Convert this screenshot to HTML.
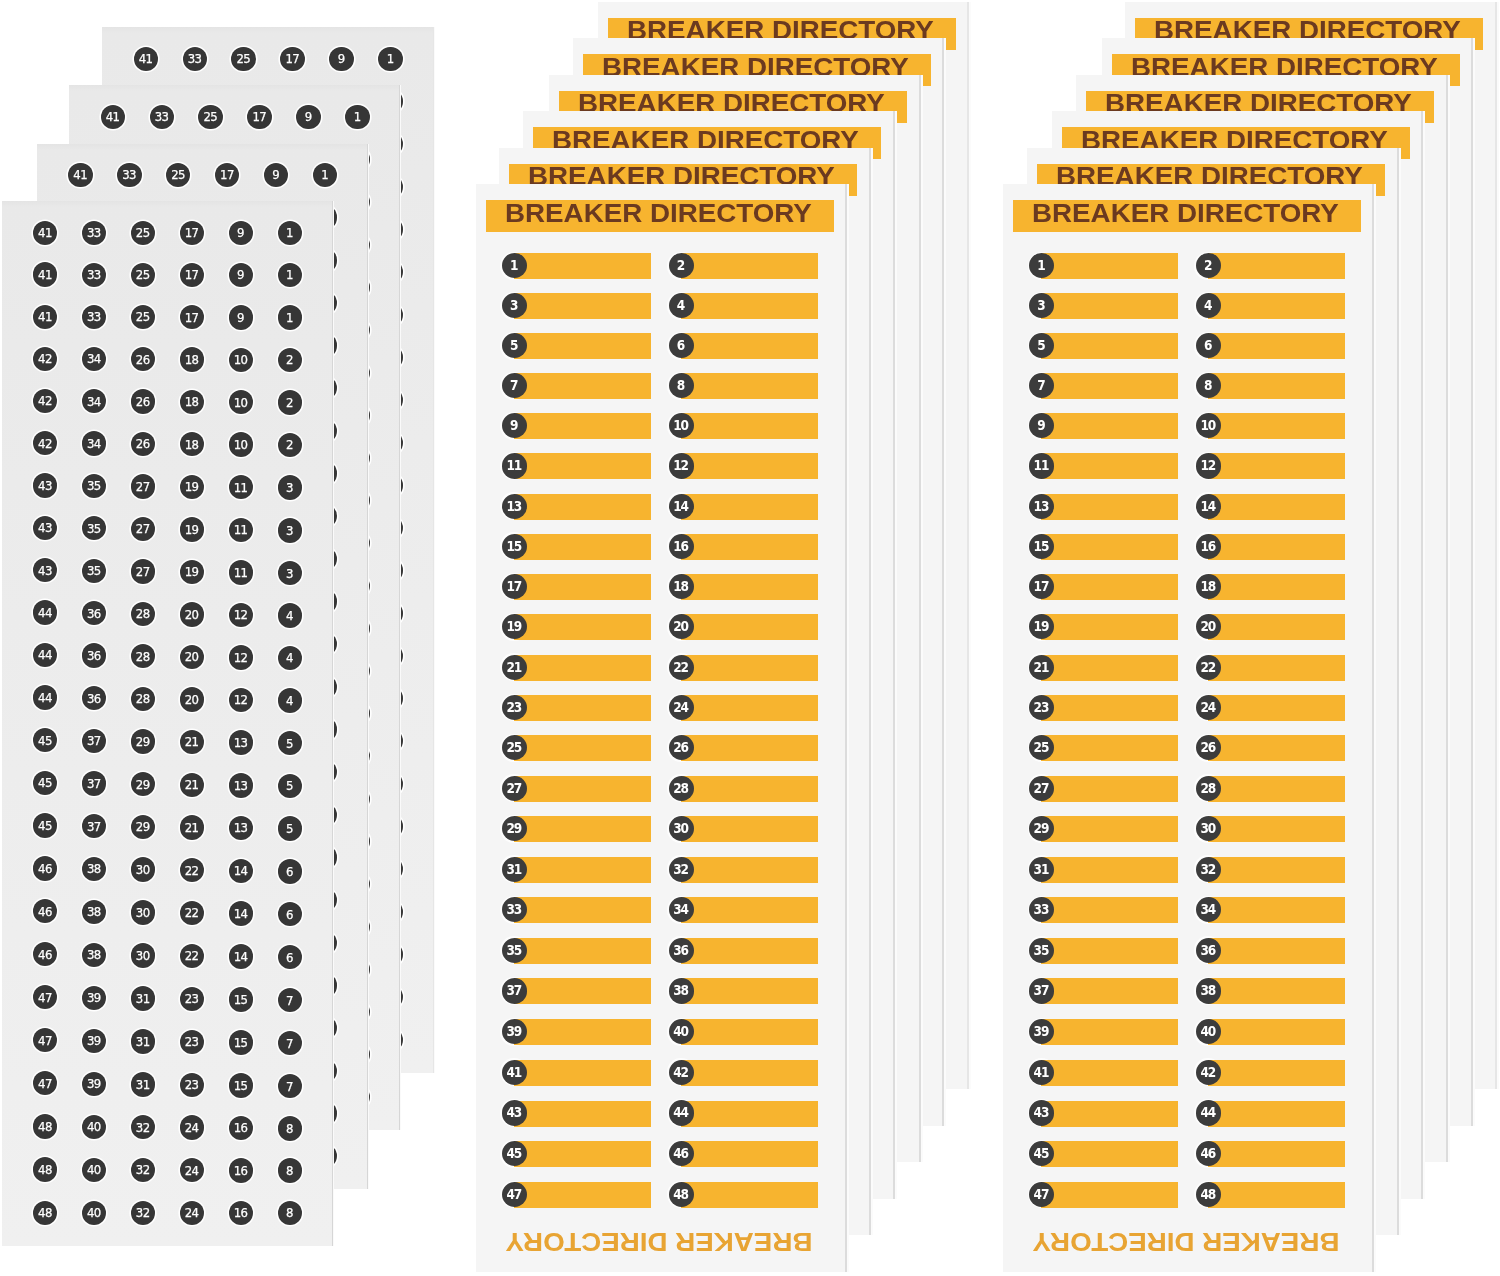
<!DOCTYPE html>
<html><head><meta charset="utf-8"><title>Breaker Directory Labels</title><style>
html,body{margin:0;padding:0;background:#fff;}
body{width:1500px;height:1276px;overflow:hidden;position:relative;}
.ls,.ms{position:absolute;box-sizing:border-box;}
.ls{width:332px;height:1045.5px;background:linear-gradient(#e4e4e4,#e9e9e9 6px,#ececec 40%,#f0f0f0);border-right:1px solid #d6d6d6;box-shadow:1px 0 0 #fafafa;}
.ms{width:371.5px;height:1087.5px;background:#f5f5f5;border-right:2px solid #dcdcdc;box-shadow:2px 0 0 #fbfbfb;}
.bk{border-right-color:#e6e6e6;}
.c{position:absolute;border-radius:50%;background:#363636;box-shadow:0 0 0 1.6px #fff;color:#fff;text-align:center;}
.lc{width:24.4px;height:24.4px;line-height:24.4px;font:13px/24.4px "DejaVu Sans Condensed","DejaVu Sans",sans-serif;font-stretch:condensed;letter-spacing:-0.6px;text-indent:-0.6px;padding-top:0.6px;box-sizing:border-box;-webkit-text-stroke:0.25px #fff;}
.mc{width:25.2px;height:25.2px;font:bold 13.5px/25.2px "DejaVu Sans Condensed","DejaVu Sans",sans-serif;font-stretch:condensed;letter-spacing:-1.1px;text-indent:-1.1px;background:#3c3c3c;box-shadow:none;}
.hl{position:absolute;width:27.8px;height:27.8px;border-radius:50%;background:#fdfdfd;}
.b{position:absolute;height:26px;background:#f7b42f;}
.h{position:absolute;left:10px;top:16px;width:348px;height:32px;background:#f7b42f;overflow:hidden;}
.ht{position:absolute;left:19px;top:-3.5px;white-space:nowrap;font:bold 25px/32px "Liberation Sans",sans-serif;color:#6b3a20;transform-origin:0 50%;transform:scaleX(1.11);}
.bt{position:absolute;left:33.8px;top:1041.3px;width:300px;text-align:center;white-space:nowrap;font:bold 25px/32px "Liberation Sans",sans-serif;color:#e8a433;transform:rotate(180deg) scaleX(1.11);}
</style></head><body>
<div class="ls bk" style="left:102.4px;top:27.3px;width:332px">
<div class="c lc" style="left:31.3px;top:19.5px">41</div>
<div class="c lc" style="left:80.2px;top:19.5px">33</div>
<div class="c lc" style="left:129.1px;top:19.5px">25</div>
<div class="c lc" style="left:178px;top:19.5px">17</div>
<div class="c lc" style="left:226.9px;top:19.5px">9</div>
<div class="c lc" style="left:275.8px;top:19.5px">1</div>
<div class="c lc" style="left:31.3px;top:62.14px">41</div>
<div class="c lc" style="left:80.2px;top:62.14px">33</div>
<div class="c lc" style="left:129.1px;top:62.14px">25</div>
<div class="c lc" style="left:178px;top:62.14px">17</div>
<div class="c lc" style="left:226.9px;top:62.14px">9</div>
<div class="c lc" style="left:275.8px;top:62.14px">1</div>
<div class="c lc" style="left:31.3px;top:104.78px">41</div>
<div class="c lc" style="left:80.2px;top:104.78px">33</div>
<div class="c lc" style="left:129.1px;top:104.78px">25</div>
<div class="c lc" style="left:178px;top:104.78px">17</div>
<div class="c lc" style="left:226.9px;top:104.78px">9</div>
<div class="c lc" style="left:275.8px;top:104.78px">1</div>
<div class="c lc" style="left:31.3px;top:147.42px">42</div>
<div class="c lc" style="left:80.2px;top:147.42px">34</div>
<div class="c lc" style="left:129.1px;top:147.42px">26</div>
<div class="c lc" style="left:178px;top:147.42px">18</div>
<div class="c lc" style="left:226.9px;top:147.42px">10</div>
<div class="c lc" style="left:275.8px;top:147.42px">2</div>
<div class="c lc" style="left:31.3px;top:190.06px">42</div>
<div class="c lc" style="left:80.2px;top:190.06px">34</div>
<div class="c lc" style="left:129.1px;top:190.06px">26</div>
<div class="c lc" style="left:178px;top:190.06px">18</div>
<div class="c lc" style="left:226.9px;top:190.06px">10</div>
<div class="c lc" style="left:275.8px;top:190.06px">2</div>
<div class="c lc" style="left:31.3px;top:232.7px">42</div>
<div class="c lc" style="left:80.2px;top:232.7px">34</div>
<div class="c lc" style="left:129.1px;top:232.7px">26</div>
<div class="c lc" style="left:178px;top:232.7px">18</div>
<div class="c lc" style="left:226.9px;top:232.7px">10</div>
<div class="c lc" style="left:275.8px;top:232.7px">2</div>
<div class="c lc" style="left:31.3px;top:275.34px">43</div>
<div class="c lc" style="left:80.2px;top:275.34px">35</div>
<div class="c lc" style="left:129.1px;top:275.34px">27</div>
<div class="c lc" style="left:178px;top:275.34px">19</div>
<div class="c lc" style="left:226.9px;top:275.34px">11</div>
<div class="c lc" style="left:275.8px;top:275.34px">3</div>
<div class="c lc" style="left:31.3px;top:317.98px">43</div>
<div class="c lc" style="left:80.2px;top:317.98px">35</div>
<div class="c lc" style="left:129.1px;top:317.98px">27</div>
<div class="c lc" style="left:178px;top:317.98px">19</div>
<div class="c lc" style="left:226.9px;top:317.98px">11</div>
<div class="c lc" style="left:275.8px;top:317.98px">3</div>
<div class="c lc" style="left:31.3px;top:360.62px">43</div>
<div class="c lc" style="left:80.2px;top:360.62px">35</div>
<div class="c lc" style="left:129.1px;top:360.62px">27</div>
<div class="c lc" style="left:178px;top:360.62px">19</div>
<div class="c lc" style="left:226.9px;top:360.62px">11</div>
<div class="c lc" style="left:275.8px;top:360.62px">3</div>
<div class="c lc" style="left:31.3px;top:403.26px">44</div>
<div class="c lc" style="left:80.2px;top:403.26px">36</div>
<div class="c lc" style="left:129.1px;top:403.26px">28</div>
<div class="c lc" style="left:178px;top:403.26px">20</div>
<div class="c lc" style="left:226.9px;top:403.26px">12</div>
<div class="c lc" style="left:275.8px;top:403.26px">4</div>
<div class="c lc" style="left:31.3px;top:445.9px">44</div>
<div class="c lc" style="left:80.2px;top:445.9px">36</div>
<div class="c lc" style="left:129.1px;top:445.9px">28</div>
<div class="c lc" style="left:178px;top:445.9px">20</div>
<div class="c lc" style="left:226.9px;top:445.9px">12</div>
<div class="c lc" style="left:275.8px;top:445.9px">4</div>
<div class="c lc" style="left:31.3px;top:488.54px">44</div>
<div class="c lc" style="left:80.2px;top:488.54px">36</div>
<div class="c lc" style="left:129.1px;top:488.54px">28</div>
<div class="c lc" style="left:178px;top:488.54px">20</div>
<div class="c lc" style="left:226.9px;top:488.54px">12</div>
<div class="c lc" style="left:275.8px;top:488.54px">4</div>
<div class="c lc" style="left:31.3px;top:531.18px">45</div>
<div class="c lc" style="left:80.2px;top:531.18px">37</div>
<div class="c lc" style="left:129.1px;top:531.18px">29</div>
<div class="c lc" style="left:178px;top:531.18px">21</div>
<div class="c lc" style="left:226.9px;top:531.18px">13</div>
<div class="c lc" style="left:275.8px;top:531.18px">5</div>
<div class="c lc" style="left:31.3px;top:573.82px">45</div>
<div class="c lc" style="left:80.2px;top:573.82px">37</div>
<div class="c lc" style="left:129.1px;top:573.82px">29</div>
<div class="c lc" style="left:178px;top:573.82px">21</div>
<div class="c lc" style="left:226.9px;top:573.82px">13</div>
<div class="c lc" style="left:275.8px;top:573.82px">5</div>
<div class="c lc" style="left:31.3px;top:616.46px">45</div>
<div class="c lc" style="left:80.2px;top:616.46px">37</div>
<div class="c lc" style="left:129.1px;top:616.46px">29</div>
<div class="c lc" style="left:178px;top:616.46px">21</div>
<div class="c lc" style="left:226.9px;top:616.46px">13</div>
<div class="c lc" style="left:275.8px;top:616.46px">5</div>
<div class="c lc" style="left:31.3px;top:659.1px">46</div>
<div class="c lc" style="left:80.2px;top:659.1px">38</div>
<div class="c lc" style="left:129.1px;top:659.1px">30</div>
<div class="c lc" style="left:178px;top:659.1px">22</div>
<div class="c lc" style="left:226.9px;top:659.1px">14</div>
<div class="c lc" style="left:275.8px;top:659.1px">6</div>
<div class="c lc" style="left:31.3px;top:701.74px">46</div>
<div class="c lc" style="left:80.2px;top:701.74px">38</div>
<div class="c lc" style="left:129.1px;top:701.74px">30</div>
<div class="c lc" style="left:178px;top:701.74px">22</div>
<div class="c lc" style="left:226.9px;top:701.74px">14</div>
<div class="c lc" style="left:275.8px;top:701.74px">6</div>
<div class="c lc" style="left:31.3px;top:744.38px">46</div>
<div class="c lc" style="left:80.2px;top:744.38px">38</div>
<div class="c lc" style="left:129.1px;top:744.38px">30</div>
<div class="c lc" style="left:178px;top:744.38px">22</div>
<div class="c lc" style="left:226.9px;top:744.38px">14</div>
<div class="c lc" style="left:275.8px;top:744.38px">6</div>
<div class="c lc" style="left:31.3px;top:787.02px">47</div>
<div class="c lc" style="left:80.2px;top:787.02px">39</div>
<div class="c lc" style="left:129.1px;top:787.02px">31</div>
<div class="c lc" style="left:178px;top:787.02px">23</div>
<div class="c lc" style="left:226.9px;top:787.02px">15</div>
<div class="c lc" style="left:275.8px;top:787.02px">7</div>
<div class="c lc" style="left:31.3px;top:829.66px">47</div>
<div class="c lc" style="left:80.2px;top:829.66px">39</div>
<div class="c lc" style="left:129.1px;top:829.66px">31</div>
<div class="c lc" style="left:178px;top:829.66px">23</div>
<div class="c lc" style="left:226.9px;top:829.66px">15</div>
<div class="c lc" style="left:275.8px;top:829.66px">7</div>
<div class="c lc" style="left:31.3px;top:872.3px">47</div>
<div class="c lc" style="left:80.2px;top:872.3px">39</div>
<div class="c lc" style="left:129.1px;top:872.3px">31</div>
<div class="c lc" style="left:178px;top:872.3px">23</div>
<div class="c lc" style="left:226.9px;top:872.3px">15</div>
<div class="c lc" style="left:275.8px;top:872.3px">7</div>
<div class="c lc" style="left:31.3px;top:914.94px">48</div>
<div class="c lc" style="left:80.2px;top:914.94px">40</div>
<div class="c lc" style="left:129.1px;top:914.94px">32</div>
<div class="c lc" style="left:178px;top:914.94px">24</div>
<div class="c lc" style="left:226.9px;top:914.94px">16</div>
<div class="c lc" style="left:275.8px;top:914.94px">8</div>
<div class="c lc" style="left:31.3px;top:957.58px">48</div>
<div class="c lc" style="left:80.2px;top:957.58px">40</div>
<div class="c lc" style="left:129.1px;top:957.58px">32</div>
<div class="c lc" style="left:178px;top:957.58px">24</div>
<div class="c lc" style="left:226.9px;top:957.58px">16</div>
<div class="c lc" style="left:275.8px;top:957.58px">8</div>
<div class="c lc" style="left:31.3px;top:1000.22px">48</div>
<div class="c lc" style="left:80.2px;top:1000.22px">40</div>
<div class="c lc" style="left:129.1px;top:1000.22px">32</div>
<div class="c lc" style="left:178px;top:1000.22px">24</div>
<div class="c lc" style="left:226.9px;top:1000.22px">16</div>
<div class="c lc" style="left:275.8px;top:1000.22px">8</div>
</div>
<div class="ls" style="left:68.6px;top:84.8px;width:331px">
<div class="c lc" style="left:32.1px;top:20px">41</div>
<div class="c lc" style="left:81px;top:20px">33</div>
<div class="c lc" style="left:129.9px;top:20px">25</div>
<div class="c lc" style="left:178.8px;top:20px">17</div>
<div class="c lc" style="left:227.7px;top:20px">9</div>
<div class="c lc" style="left:276.6px;top:20px">1</div>
<div class="c lc" style="left:32.1px;top:62.62px">41</div>
<div class="c lc" style="left:81px;top:62.62px">33</div>
<div class="c lc" style="left:129.9px;top:62.62px">25</div>
<div class="c lc" style="left:178.8px;top:62.62px">17</div>
<div class="c lc" style="left:227.7px;top:62.62px">9</div>
<div class="c lc" style="left:276.6px;top:62.62px">1</div>
<div class="c lc" style="left:32.1px;top:105.24px">41</div>
<div class="c lc" style="left:81px;top:105.24px">33</div>
<div class="c lc" style="left:129.9px;top:105.24px">25</div>
<div class="c lc" style="left:178.8px;top:105.24px">17</div>
<div class="c lc" style="left:227.7px;top:105.24px">9</div>
<div class="c lc" style="left:276.6px;top:105.24px">1</div>
<div class="c lc" style="left:32.1px;top:147.86px">42</div>
<div class="c lc" style="left:81px;top:147.86px">34</div>
<div class="c lc" style="left:129.9px;top:147.86px">26</div>
<div class="c lc" style="left:178.8px;top:147.86px">18</div>
<div class="c lc" style="left:227.7px;top:147.86px">10</div>
<div class="c lc" style="left:276.6px;top:147.86px">2</div>
<div class="c lc" style="left:32.1px;top:190.48px">42</div>
<div class="c lc" style="left:81px;top:190.48px">34</div>
<div class="c lc" style="left:129.9px;top:190.48px">26</div>
<div class="c lc" style="left:178.8px;top:190.48px">18</div>
<div class="c lc" style="left:227.7px;top:190.48px">10</div>
<div class="c lc" style="left:276.6px;top:190.48px">2</div>
<div class="c lc" style="left:32.1px;top:233.1px">42</div>
<div class="c lc" style="left:81px;top:233.1px">34</div>
<div class="c lc" style="left:129.9px;top:233.1px">26</div>
<div class="c lc" style="left:178.8px;top:233.1px">18</div>
<div class="c lc" style="left:227.7px;top:233.1px">10</div>
<div class="c lc" style="left:276.6px;top:233.1px">2</div>
<div class="c lc" style="left:32.1px;top:275.72px">43</div>
<div class="c lc" style="left:81px;top:275.72px">35</div>
<div class="c lc" style="left:129.9px;top:275.72px">27</div>
<div class="c lc" style="left:178.8px;top:275.72px">19</div>
<div class="c lc" style="left:227.7px;top:275.72px">11</div>
<div class="c lc" style="left:276.6px;top:275.72px">3</div>
<div class="c lc" style="left:32.1px;top:318.34px">43</div>
<div class="c lc" style="left:81px;top:318.34px">35</div>
<div class="c lc" style="left:129.9px;top:318.34px">27</div>
<div class="c lc" style="left:178.8px;top:318.34px">19</div>
<div class="c lc" style="left:227.7px;top:318.34px">11</div>
<div class="c lc" style="left:276.6px;top:318.34px">3</div>
<div class="c lc" style="left:32.1px;top:360.96px">43</div>
<div class="c lc" style="left:81px;top:360.96px">35</div>
<div class="c lc" style="left:129.9px;top:360.96px">27</div>
<div class="c lc" style="left:178.8px;top:360.96px">19</div>
<div class="c lc" style="left:227.7px;top:360.96px">11</div>
<div class="c lc" style="left:276.6px;top:360.96px">3</div>
<div class="c lc" style="left:32.1px;top:403.58px">44</div>
<div class="c lc" style="left:81px;top:403.58px">36</div>
<div class="c lc" style="left:129.9px;top:403.58px">28</div>
<div class="c lc" style="left:178.8px;top:403.58px">20</div>
<div class="c lc" style="left:227.7px;top:403.58px">12</div>
<div class="c lc" style="left:276.6px;top:403.58px">4</div>
<div class="c lc" style="left:32.1px;top:446.2px">44</div>
<div class="c lc" style="left:81px;top:446.2px">36</div>
<div class="c lc" style="left:129.9px;top:446.2px">28</div>
<div class="c lc" style="left:178.8px;top:446.2px">20</div>
<div class="c lc" style="left:227.7px;top:446.2px">12</div>
<div class="c lc" style="left:276.6px;top:446.2px">4</div>
<div class="c lc" style="left:32.1px;top:488.82px">44</div>
<div class="c lc" style="left:81px;top:488.82px">36</div>
<div class="c lc" style="left:129.9px;top:488.82px">28</div>
<div class="c lc" style="left:178.8px;top:488.82px">20</div>
<div class="c lc" style="left:227.7px;top:488.82px">12</div>
<div class="c lc" style="left:276.6px;top:488.82px">4</div>
<div class="c lc" style="left:32.1px;top:531.44px">45</div>
<div class="c lc" style="left:81px;top:531.44px">37</div>
<div class="c lc" style="left:129.9px;top:531.44px">29</div>
<div class="c lc" style="left:178.8px;top:531.44px">21</div>
<div class="c lc" style="left:227.7px;top:531.44px">13</div>
<div class="c lc" style="left:276.6px;top:531.44px">5</div>
<div class="c lc" style="left:32.1px;top:574.06px">45</div>
<div class="c lc" style="left:81px;top:574.06px">37</div>
<div class="c lc" style="left:129.9px;top:574.06px">29</div>
<div class="c lc" style="left:178.8px;top:574.06px">21</div>
<div class="c lc" style="left:227.7px;top:574.06px">13</div>
<div class="c lc" style="left:276.6px;top:574.06px">5</div>
<div class="c lc" style="left:32.1px;top:616.68px">45</div>
<div class="c lc" style="left:81px;top:616.68px">37</div>
<div class="c lc" style="left:129.9px;top:616.68px">29</div>
<div class="c lc" style="left:178.8px;top:616.68px">21</div>
<div class="c lc" style="left:227.7px;top:616.68px">13</div>
<div class="c lc" style="left:276.6px;top:616.68px">5</div>
<div class="c lc" style="left:32.1px;top:659.3px">46</div>
<div class="c lc" style="left:81px;top:659.3px">38</div>
<div class="c lc" style="left:129.9px;top:659.3px">30</div>
<div class="c lc" style="left:178.8px;top:659.3px">22</div>
<div class="c lc" style="left:227.7px;top:659.3px">14</div>
<div class="c lc" style="left:276.6px;top:659.3px">6</div>
<div class="c lc" style="left:32.1px;top:701.92px">46</div>
<div class="c lc" style="left:81px;top:701.92px">38</div>
<div class="c lc" style="left:129.9px;top:701.92px">30</div>
<div class="c lc" style="left:178.8px;top:701.92px">22</div>
<div class="c lc" style="left:227.7px;top:701.92px">14</div>
<div class="c lc" style="left:276.6px;top:701.92px">6</div>
<div class="c lc" style="left:32.1px;top:744.54px">46</div>
<div class="c lc" style="left:81px;top:744.54px">38</div>
<div class="c lc" style="left:129.9px;top:744.54px">30</div>
<div class="c lc" style="left:178.8px;top:744.54px">22</div>
<div class="c lc" style="left:227.7px;top:744.54px">14</div>
<div class="c lc" style="left:276.6px;top:744.54px">6</div>
<div class="c lc" style="left:32.1px;top:787.16px">47</div>
<div class="c lc" style="left:81px;top:787.16px">39</div>
<div class="c lc" style="left:129.9px;top:787.16px">31</div>
<div class="c lc" style="left:178.8px;top:787.16px">23</div>
<div class="c lc" style="left:227.7px;top:787.16px">15</div>
<div class="c lc" style="left:276.6px;top:787.16px">7</div>
<div class="c lc" style="left:32.1px;top:829.78px">47</div>
<div class="c lc" style="left:81px;top:829.78px">39</div>
<div class="c lc" style="left:129.9px;top:829.78px">31</div>
<div class="c lc" style="left:178.8px;top:829.78px">23</div>
<div class="c lc" style="left:227.7px;top:829.78px">15</div>
<div class="c lc" style="left:276.6px;top:829.78px">7</div>
<div class="c lc" style="left:32.1px;top:872.4px">47</div>
<div class="c lc" style="left:81px;top:872.4px">39</div>
<div class="c lc" style="left:129.9px;top:872.4px">31</div>
<div class="c lc" style="left:178.8px;top:872.4px">23</div>
<div class="c lc" style="left:227.7px;top:872.4px">15</div>
<div class="c lc" style="left:276.6px;top:872.4px">7</div>
<div class="c lc" style="left:32.1px;top:915.02px">48</div>
<div class="c lc" style="left:81px;top:915.02px">40</div>
<div class="c lc" style="left:129.9px;top:915.02px">32</div>
<div class="c lc" style="left:178.8px;top:915.02px">24</div>
<div class="c lc" style="left:227.7px;top:915.02px">16</div>
<div class="c lc" style="left:276.6px;top:915.02px">8</div>
<div class="c lc" style="left:32.1px;top:957.64px">48</div>
<div class="c lc" style="left:81px;top:957.64px">40</div>
<div class="c lc" style="left:129.9px;top:957.64px">32</div>
<div class="c lc" style="left:178.8px;top:957.64px">24</div>
<div class="c lc" style="left:227.7px;top:957.64px">16</div>
<div class="c lc" style="left:276.6px;top:957.64px">8</div>
<div class="c lc" style="left:32.1px;top:1000.26px">48</div>
<div class="c lc" style="left:81px;top:1000.26px">40</div>
<div class="c lc" style="left:129.9px;top:1000.26px">32</div>
<div class="c lc" style="left:178.8px;top:1000.26px">24</div>
<div class="c lc" style="left:227.7px;top:1000.26px">16</div>
<div class="c lc" style="left:276.6px;top:1000.26px">8</div>
</div>
<div class="ls" style="left:36.5px;top:143.9px;width:331.5px">
<div class="c lc" style="left:31.8px;top:18.9px">41</div>
<div class="c lc" style="left:80.7px;top:18.9px">33</div>
<div class="c lc" style="left:129.6px;top:18.9px">25</div>
<div class="c lc" style="left:178.5px;top:18.9px">17</div>
<div class="c lc" style="left:227.4px;top:18.9px">9</div>
<div class="c lc" style="left:276.3px;top:18.9px">1</div>
<div class="c lc" style="left:31.8px;top:61.56px">41</div>
<div class="c lc" style="left:80.7px;top:61.56px">33</div>
<div class="c lc" style="left:129.6px;top:61.56px">25</div>
<div class="c lc" style="left:178.5px;top:61.56px">17</div>
<div class="c lc" style="left:227.4px;top:61.56px">9</div>
<div class="c lc" style="left:276.3px;top:61.56px">1</div>
<div class="c lc" style="left:31.8px;top:104.22px">41</div>
<div class="c lc" style="left:80.7px;top:104.22px">33</div>
<div class="c lc" style="left:129.6px;top:104.22px">25</div>
<div class="c lc" style="left:178.5px;top:104.22px">17</div>
<div class="c lc" style="left:227.4px;top:104.22px">9</div>
<div class="c lc" style="left:276.3px;top:104.22px">1</div>
<div class="c lc" style="left:31.8px;top:146.88px">42</div>
<div class="c lc" style="left:80.7px;top:146.88px">34</div>
<div class="c lc" style="left:129.6px;top:146.88px">26</div>
<div class="c lc" style="left:178.5px;top:146.88px">18</div>
<div class="c lc" style="left:227.4px;top:146.88px">10</div>
<div class="c lc" style="left:276.3px;top:146.88px">2</div>
<div class="c lc" style="left:31.8px;top:189.54px">42</div>
<div class="c lc" style="left:80.7px;top:189.54px">34</div>
<div class="c lc" style="left:129.6px;top:189.54px">26</div>
<div class="c lc" style="left:178.5px;top:189.54px">18</div>
<div class="c lc" style="left:227.4px;top:189.54px">10</div>
<div class="c lc" style="left:276.3px;top:189.54px">2</div>
<div class="c lc" style="left:31.8px;top:232.2px">42</div>
<div class="c lc" style="left:80.7px;top:232.2px">34</div>
<div class="c lc" style="left:129.6px;top:232.2px">26</div>
<div class="c lc" style="left:178.5px;top:232.2px">18</div>
<div class="c lc" style="left:227.4px;top:232.2px">10</div>
<div class="c lc" style="left:276.3px;top:232.2px">2</div>
<div class="c lc" style="left:31.8px;top:274.86px">43</div>
<div class="c lc" style="left:80.7px;top:274.86px">35</div>
<div class="c lc" style="left:129.6px;top:274.86px">27</div>
<div class="c lc" style="left:178.5px;top:274.86px">19</div>
<div class="c lc" style="left:227.4px;top:274.86px">11</div>
<div class="c lc" style="left:276.3px;top:274.86px">3</div>
<div class="c lc" style="left:31.8px;top:317.52px">43</div>
<div class="c lc" style="left:80.7px;top:317.52px">35</div>
<div class="c lc" style="left:129.6px;top:317.52px">27</div>
<div class="c lc" style="left:178.5px;top:317.52px">19</div>
<div class="c lc" style="left:227.4px;top:317.52px">11</div>
<div class="c lc" style="left:276.3px;top:317.52px">3</div>
<div class="c lc" style="left:31.8px;top:360.18px">43</div>
<div class="c lc" style="left:80.7px;top:360.18px">35</div>
<div class="c lc" style="left:129.6px;top:360.18px">27</div>
<div class="c lc" style="left:178.5px;top:360.18px">19</div>
<div class="c lc" style="left:227.4px;top:360.18px">11</div>
<div class="c lc" style="left:276.3px;top:360.18px">3</div>
<div class="c lc" style="left:31.8px;top:402.84px">44</div>
<div class="c lc" style="left:80.7px;top:402.84px">36</div>
<div class="c lc" style="left:129.6px;top:402.84px">28</div>
<div class="c lc" style="left:178.5px;top:402.84px">20</div>
<div class="c lc" style="left:227.4px;top:402.84px">12</div>
<div class="c lc" style="left:276.3px;top:402.84px">4</div>
<div class="c lc" style="left:31.8px;top:445.5px">44</div>
<div class="c lc" style="left:80.7px;top:445.5px">36</div>
<div class="c lc" style="left:129.6px;top:445.5px">28</div>
<div class="c lc" style="left:178.5px;top:445.5px">20</div>
<div class="c lc" style="left:227.4px;top:445.5px">12</div>
<div class="c lc" style="left:276.3px;top:445.5px">4</div>
<div class="c lc" style="left:31.8px;top:488.16px">44</div>
<div class="c lc" style="left:80.7px;top:488.16px">36</div>
<div class="c lc" style="left:129.6px;top:488.16px">28</div>
<div class="c lc" style="left:178.5px;top:488.16px">20</div>
<div class="c lc" style="left:227.4px;top:488.16px">12</div>
<div class="c lc" style="left:276.3px;top:488.16px">4</div>
<div class="c lc" style="left:31.8px;top:530.82px">45</div>
<div class="c lc" style="left:80.7px;top:530.82px">37</div>
<div class="c lc" style="left:129.6px;top:530.82px">29</div>
<div class="c lc" style="left:178.5px;top:530.82px">21</div>
<div class="c lc" style="left:227.4px;top:530.82px">13</div>
<div class="c lc" style="left:276.3px;top:530.82px">5</div>
<div class="c lc" style="left:31.8px;top:573.48px">45</div>
<div class="c lc" style="left:80.7px;top:573.48px">37</div>
<div class="c lc" style="left:129.6px;top:573.48px">29</div>
<div class="c lc" style="left:178.5px;top:573.48px">21</div>
<div class="c lc" style="left:227.4px;top:573.48px">13</div>
<div class="c lc" style="left:276.3px;top:573.48px">5</div>
<div class="c lc" style="left:31.8px;top:616.14px">45</div>
<div class="c lc" style="left:80.7px;top:616.14px">37</div>
<div class="c lc" style="left:129.6px;top:616.14px">29</div>
<div class="c lc" style="left:178.5px;top:616.14px">21</div>
<div class="c lc" style="left:227.4px;top:616.14px">13</div>
<div class="c lc" style="left:276.3px;top:616.14px">5</div>
<div class="c lc" style="left:31.8px;top:658.8px">46</div>
<div class="c lc" style="left:80.7px;top:658.8px">38</div>
<div class="c lc" style="left:129.6px;top:658.8px">30</div>
<div class="c lc" style="left:178.5px;top:658.8px">22</div>
<div class="c lc" style="left:227.4px;top:658.8px">14</div>
<div class="c lc" style="left:276.3px;top:658.8px">6</div>
<div class="c lc" style="left:31.8px;top:701.46px">46</div>
<div class="c lc" style="left:80.7px;top:701.46px">38</div>
<div class="c lc" style="left:129.6px;top:701.46px">30</div>
<div class="c lc" style="left:178.5px;top:701.46px">22</div>
<div class="c lc" style="left:227.4px;top:701.46px">14</div>
<div class="c lc" style="left:276.3px;top:701.46px">6</div>
<div class="c lc" style="left:31.8px;top:744.12px">46</div>
<div class="c lc" style="left:80.7px;top:744.12px">38</div>
<div class="c lc" style="left:129.6px;top:744.12px">30</div>
<div class="c lc" style="left:178.5px;top:744.12px">22</div>
<div class="c lc" style="left:227.4px;top:744.12px">14</div>
<div class="c lc" style="left:276.3px;top:744.12px">6</div>
<div class="c lc" style="left:31.8px;top:786.78px">47</div>
<div class="c lc" style="left:80.7px;top:786.78px">39</div>
<div class="c lc" style="left:129.6px;top:786.78px">31</div>
<div class="c lc" style="left:178.5px;top:786.78px">23</div>
<div class="c lc" style="left:227.4px;top:786.78px">15</div>
<div class="c lc" style="left:276.3px;top:786.78px">7</div>
<div class="c lc" style="left:31.8px;top:829.44px">47</div>
<div class="c lc" style="left:80.7px;top:829.44px">39</div>
<div class="c lc" style="left:129.6px;top:829.44px">31</div>
<div class="c lc" style="left:178.5px;top:829.44px">23</div>
<div class="c lc" style="left:227.4px;top:829.44px">15</div>
<div class="c lc" style="left:276.3px;top:829.44px">7</div>
<div class="c lc" style="left:31.8px;top:872.1px">47</div>
<div class="c lc" style="left:80.7px;top:872.1px">39</div>
<div class="c lc" style="left:129.6px;top:872.1px">31</div>
<div class="c lc" style="left:178.5px;top:872.1px">23</div>
<div class="c lc" style="left:227.4px;top:872.1px">15</div>
<div class="c lc" style="left:276.3px;top:872.1px">7</div>
<div class="c lc" style="left:31.8px;top:914.76px">48</div>
<div class="c lc" style="left:80.7px;top:914.76px">40</div>
<div class="c lc" style="left:129.6px;top:914.76px">32</div>
<div class="c lc" style="left:178.5px;top:914.76px">24</div>
<div class="c lc" style="left:227.4px;top:914.76px">16</div>
<div class="c lc" style="left:276.3px;top:914.76px">8</div>
<div class="c lc" style="left:31.8px;top:957.42px">48</div>
<div class="c lc" style="left:80.7px;top:957.42px">40</div>
<div class="c lc" style="left:129.6px;top:957.42px">32</div>
<div class="c lc" style="left:178.5px;top:957.42px">24</div>
<div class="c lc" style="left:227.4px;top:957.42px">16</div>
<div class="c lc" style="left:276.3px;top:957.42px">8</div>
<div class="c lc" style="left:31.8px;top:1000.08px">48</div>
<div class="c lc" style="left:80.7px;top:1000.08px">40</div>
<div class="c lc" style="left:129.6px;top:1000.08px">32</div>
<div class="c lc" style="left:178.5px;top:1000.08px">24</div>
<div class="c lc" style="left:227.4px;top:1000.08px">16</div>
<div class="c lc" style="left:276.3px;top:1000.08px">8</div>
</div>
<div class="ls" style="left:1.5px;top:200.8px;width:331.5px">
<div class="c lc" style="left:31.5px;top:19.71px">41</div>
<div class="c lc" style="left:80.4px;top:19.71px">33</div>
<div class="c lc" style="left:129.3px;top:19.71px">25</div>
<div class="c lc" style="left:178.2px;top:19.71px">17</div>
<div class="c lc" style="left:227.1px;top:19.71px">9</div>
<div class="c lc" style="left:276px;top:19.71px">1</div>
<div class="c lc" style="left:31.5px;top:61.69px">41</div>
<div class="c lc" style="left:80.4px;top:61.76px">33</div>
<div class="c lc" style="left:129.3px;top:61.84px">25</div>
<div class="c lc" style="left:178.2px;top:61.91px">17</div>
<div class="c lc" style="left:227.1px;top:61.99px">9</div>
<div class="c lc" style="left:276px;top:62.06px">1</div>
<div class="c lc" style="left:31.5px;top:103.72px">41</div>
<div class="c lc" style="left:80.4px;top:103.87px">33</div>
<div class="c lc" style="left:129.3px;top:104.02px">25</div>
<div class="c lc" style="left:178.2px;top:104.17px">17</div>
<div class="c lc" style="left:227.1px;top:104.32px">9</div>
<div class="c lc" style="left:276px;top:104.47px">1</div>
<div class="c lc" style="left:31.5px;top:145.81px">42</div>
<div class="c lc" style="left:80.4px;top:146.04px">34</div>
<div class="c lc" style="left:129.3px;top:146.26px">26</div>
<div class="c lc" style="left:178.2px;top:146.49px">18</div>
<div class="c lc" style="left:227.1px;top:146.71px">10</div>
<div class="c lc" style="left:276px;top:146.94px">2</div>
<div class="c lc" style="left:31.5px;top:187.96px">42</div>
<div class="c lc" style="left:80.4px;top:188.26px">34</div>
<div class="c lc" style="left:129.3px;top:188.56px">26</div>
<div class="c lc" style="left:178.2px;top:188.86px">18</div>
<div class="c lc" style="left:227.1px;top:189.16px">10</div>
<div class="c lc" style="left:276px;top:189.46px">2</div>
<div class="c lc" style="left:31.5px;top:230.17px">42</div>
<div class="c lc" style="left:80.4px;top:230.55px">34</div>
<div class="c lc" style="left:129.3px;top:230.92px">26</div>
<div class="c lc" style="left:178.2px;top:231.3px">18</div>
<div class="c lc" style="left:227.1px;top:231.67px">10</div>
<div class="c lc" style="left:276px;top:232.05px">2</div>
<div class="c lc" style="left:31.5px;top:272.44px">43</div>
<div class="c lc" style="left:80.4px;top:272.89px">35</div>
<div class="c lc" style="left:129.3px;top:273.34px">27</div>
<div class="c lc" style="left:178.2px;top:273.79px">19</div>
<div class="c lc" style="left:227.1px;top:274.24px">11</div>
<div class="c lc" style="left:276px;top:274.69px">3</div>
<div class="c lc" style="left:31.5px;top:314.76px">43</div>
<div class="c lc" style="left:80.4px;top:315.29px">35</div>
<div class="c lc" style="left:129.3px;top:315.81px">27</div>
<div class="c lc" style="left:178.2px;top:316.34px">19</div>
<div class="c lc" style="left:227.1px;top:316.86px">11</div>
<div class="c lc" style="left:276px;top:317.39px">3</div>
<div class="c lc" style="left:31.5px;top:357.15px">43</div>
<div class="c lc" style="left:80.4px;top:357.75px">35</div>
<div class="c lc" style="left:129.3px;top:358.35px">27</div>
<div class="c lc" style="left:178.2px;top:358.95px">19</div>
<div class="c lc" style="left:227.1px;top:359.55px">11</div>
<div class="c lc" style="left:276px;top:360.15px">3</div>
<div class="c lc" style="left:31.5px;top:399.59px">44</div>
<div class="c lc" style="left:80.4px;top:400.19px">36</div>
<div class="c lc" style="left:129.3px;top:400.79px">28</div>
<div class="c lc" style="left:178.2px;top:401.39px">20</div>
<div class="c lc" style="left:227.1px;top:401.99px">12</div>
<div class="c lc" style="left:276px;top:402.59px">4</div>
<div class="c lc" style="left:31.5px;top:442.09px">44</div>
<div class="c lc" style="left:80.4px;top:442.69px">36</div>
<div class="c lc" style="left:129.3px;top:443.29px">28</div>
<div class="c lc" style="left:178.2px;top:443.89px">20</div>
<div class="c lc" style="left:227.1px;top:444.49px">12</div>
<div class="c lc" style="left:276px;top:445.09px">4</div>
<div class="c lc" style="left:31.5px;top:484.64px">44</div>
<div class="c lc" style="left:80.4px;top:485.24px">36</div>
<div class="c lc" style="left:129.3px;top:485.84px">28</div>
<div class="c lc" style="left:178.2px;top:486.44px">20</div>
<div class="c lc" style="left:227.1px;top:487.04px">12</div>
<div class="c lc" style="left:276px;top:487.64px">4</div>
<div class="c lc" style="left:31.5px;top:527.26px">45</div>
<div class="c lc" style="left:80.4px;top:527.86px">37</div>
<div class="c lc" style="left:129.3px;top:528.46px">29</div>
<div class="c lc" style="left:178.2px;top:529.06px">21</div>
<div class="c lc" style="left:227.1px;top:529.66px">13</div>
<div class="c lc" style="left:276px;top:530.26px">5</div>
<div class="c lc" style="left:31.5px;top:569.93px">45</div>
<div class="c lc" style="left:80.4px;top:570.53px">37</div>
<div class="c lc" style="left:129.3px;top:571.13px">29</div>
<div class="c lc" style="left:178.2px;top:571.73px">21</div>
<div class="c lc" style="left:227.1px;top:572.33px">13</div>
<div class="c lc" style="left:276px;top:572.93px">5</div>
<div class="c lc" style="left:31.5px;top:612.67px">45</div>
<div class="c lc" style="left:80.4px;top:613.27px">37</div>
<div class="c lc" style="left:129.3px;top:613.87px">29</div>
<div class="c lc" style="left:178.2px;top:614.47px">21</div>
<div class="c lc" style="left:227.1px;top:615.07px">13</div>
<div class="c lc" style="left:276px;top:615.67px">5</div>
<div class="c lc" style="left:31.5px;top:655.46px">46</div>
<div class="c lc" style="left:80.4px;top:656.06px">38</div>
<div class="c lc" style="left:129.3px;top:656.66px">30</div>
<div class="c lc" style="left:178.2px;top:657.26px">22</div>
<div class="c lc" style="left:227.1px;top:657.86px">14</div>
<div class="c lc" style="left:276px;top:658.46px">6</div>
<div class="c lc" style="left:31.5px;top:698.3px">46</div>
<div class="c lc" style="left:80.4px;top:698.9px">38</div>
<div class="c lc" style="left:129.3px;top:699.5px">30</div>
<div class="c lc" style="left:178.2px;top:700.1px">22</div>
<div class="c lc" style="left:227.1px;top:700.7px">14</div>
<div class="c lc" style="left:276px;top:701.3px">6</div>
<div class="c lc" style="left:31.5px;top:741.21px">46</div>
<div class="c lc" style="left:80.4px;top:741.81px">38</div>
<div class="c lc" style="left:129.3px;top:742.41px">30</div>
<div class="c lc" style="left:178.2px;top:743.01px">22</div>
<div class="c lc" style="left:227.1px;top:743.61px">14</div>
<div class="c lc" style="left:276px;top:744.21px">6</div>
<div class="c lc" style="left:31.5px;top:784.17px">47</div>
<div class="c lc" style="left:80.4px;top:784.77px">39</div>
<div class="c lc" style="left:129.3px;top:785.37px">31</div>
<div class="c lc" style="left:178.2px;top:785.97px">23</div>
<div class="c lc" style="left:227.1px;top:786.57px">15</div>
<div class="c lc" style="left:276px;top:787.17px">7</div>
<div class="c lc" style="left:31.5px;top:827.2px">47</div>
<div class="c lc" style="left:80.4px;top:827.8px">39</div>
<div class="c lc" style="left:129.3px;top:828.4px">31</div>
<div class="c lc" style="left:178.2px;top:829px">23</div>
<div class="c lc" style="left:227.1px;top:829.6px">15</div>
<div class="c lc" style="left:276px;top:830.2px">7</div>
<div class="c lc" style="left:31.5px;top:870.28px">47</div>
<div class="c lc" style="left:80.4px;top:870.88px">39</div>
<div class="c lc" style="left:129.3px;top:871.48px">31</div>
<div class="c lc" style="left:178.2px;top:872.08px">23</div>
<div class="c lc" style="left:227.1px;top:872.68px">15</div>
<div class="c lc" style="left:276px;top:873.28px">7</div>
<div class="c lc" style="left:31.5px;top:913.42px">48</div>
<div class="c lc" style="left:80.4px;top:913.82px">40</div>
<div class="c lc" style="left:129.3px;top:914.22px">32</div>
<div class="c lc" style="left:178.2px;top:914.62px">24</div>
<div class="c lc" style="left:227.1px;top:915.02px">16</div>
<div class="c lc" style="left:276px;top:915.42px">8</div>
<div class="c lc" style="left:31.5px;top:956.61px">48</div>
<div class="c lc" style="left:80.4px;top:956.81px">40</div>
<div class="c lc" style="left:129.3px;top:957.01px">32</div>
<div class="c lc" style="left:178.2px;top:957.21px">24</div>
<div class="c lc" style="left:227.1px;top:957.41px">16</div>
<div class="c lc" style="left:276px;top:957.61px">8</div>
<div class="c lc" style="left:31.5px;top:999.87px">48</div>
<div class="c lc" style="left:80.4px;top:999.87px">40</div>
<div class="c lc" style="left:129.3px;top:999.87px">32</div>
<div class="c lc" style="left:178.2px;top:999.87px">24</div>
<div class="c lc" style="left:227.1px;top:999.87px">16</div>
<div class="c lc" style="left:276px;top:999.87px">8</div>
</div>
<div class="ms bk" style="left:597.8px;top:1.7px">
<div class="h"><div class="ht">BREAKER DIRECTORY</div></div>
</div>
<div class="ms" style="left:572.8px;top:38.24px">
<div class="h"><div class="ht">BREAKER DIRECTORY</div></div>
</div>
<div class="ms" style="left:549.2px;top:74.78px">
<div class="h"><div class="ht">BREAKER DIRECTORY</div></div>
</div>
<div class="ms" style="left:523.3px;top:111.32px">
<div class="h"><div class="ht">BREAKER DIRECTORY</div></div>
</div>
<div class="ms" style="left:499.3px;top:147.86px">
<div class="h"><div class="ht">BREAKER DIRECTORY</div></div>
</div>
<div class="ms" style="left:475.5px;top:184.4px">
<div class="h"><div class="ht">BREAKER DIRECTORY</div></div>
<div class="hl" style="left:24.9px;top:67.45px"></div>
<div class="b" style="left:38.8px;top:68.85px;width:136.4px"></div>
<div class="c mc" style="left:26.2px;top:68.75px">1</div>
<div class="hl" style="left:191.7px;top:67.45px"></div>
<div class="b" style="left:205.6px;top:68.85px;width:137.2px"></div>
<div class="c mc" style="left:193px;top:68.75px">2</div>
<div class="hl" style="left:24.9px;top:107.43px"></div>
<div class="b" style="left:38.8px;top:108.83px;width:136.4px"></div>
<div class="c mc" style="left:26.2px;top:108.73px">3</div>
<div class="hl" style="left:191.7px;top:107.43px"></div>
<div class="b" style="left:205.6px;top:108.83px;width:137.2px"></div>
<div class="c mc" style="left:193px;top:108.73px">4</div>
<div class="hl" style="left:24.9px;top:147.44px"></div>
<div class="b" style="left:38.8px;top:148.84px;width:136.4px"></div>
<div class="c mc" style="left:26.2px;top:148.74px">5</div>
<div class="hl" style="left:191.7px;top:147.44px"></div>
<div class="b" style="left:205.6px;top:148.84px;width:137.2px"></div>
<div class="c mc" style="left:193px;top:148.74px">6</div>
<div class="hl" style="left:24.9px;top:187.49px"></div>
<div class="b" style="left:38.8px;top:188.89px;width:136.4px"></div>
<div class="c mc" style="left:26.2px;top:188.79px">7</div>
<div class="hl" style="left:191.7px;top:187.49px"></div>
<div class="b" style="left:205.6px;top:188.89px;width:137.2px"></div>
<div class="c mc" style="left:193px;top:188.79px">8</div>
<div class="hl" style="left:24.9px;top:227.58px"></div>
<div class="b" style="left:38.8px;top:228.98px;width:136.4px"></div>
<div class="c mc" style="left:26.2px;top:228.88px">9</div>
<div class="hl" style="left:191.7px;top:227.58px"></div>
<div class="b" style="left:205.6px;top:228.98px;width:137.2px"></div>
<div class="c mc" style="left:193px;top:228.88px">10</div>
<div class="hl" style="left:24.9px;top:267.7px"></div>
<div class="b" style="left:38.8px;top:269.1px;width:136.4px"></div>
<div class="c mc" style="left:26.2px;top:269px">11</div>
<div class="hl" style="left:191.7px;top:267.7px"></div>
<div class="b" style="left:205.6px;top:269.1px;width:137.2px"></div>
<div class="c mc" style="left:193px;top:269px">12</div>
<div class="hl" style="left:24.9px;top:307.86px"></div>
<div class="b" style="left:38.8px;top:309.26px;width:136.4px"></div>
<div class="c mc" style="left:26.2px;top:309.16px">13</div>
<div class="hl" style="left:191.7px;top:307.86px"></div>
<div class="b" style="left:205.6px;top:309.26px;width:137.2px"></div>
<div class="c mc" style="left:193px;top:309.16px">14</div>
<div class="hl" style="left:24.9px;top:348.06px"></div>
<div class="b" style="left:38.8px;top:349.46px;width:136.4px"></div>
<div class="c mc" style="left:26.2px;top:349.36px">15</div>
<div class="hl" style="left:191.7px;top:348.06px"></div>
<div class="b" style="left:205.6px;top:349.46px;width:137.2px"></div>
<div class="c mc" style="left:193px;top:349.36px">16</div>
<div class="hl" style="left:24.9px;top:388.3px"></div>
<div class="b" style="left:38.8px;top:389.7px;width:136.4px"></div>
<div class="c mc" style="left:26.2px;top:389.6px">17</div>
<div class="hl" style="left:191.7px;top:388.3px"></div>
<div class="b" style="left:205.6px;top:389.7px;width:137.2px"></div>
<div class="c mc" style="left:193px;top:389.6px">18</div>
<div class="hl" style="left:24.9px;top:428.57px"></div>
<div class="b" style="left:38.8px;top:429.97px;width:136.4px"></div>
<div class="c mc" style="left:26.2px;top:429.87px">19</div>
<div class="hl" style="left:191.7px;top:428.57px"></div>
<div class="b" style="left:205.6px;top:429.97px;width:137.2px"></div>
<div class="c mc" style="left:193px;top:429.87px">20</div>
<div class="hl" style="left:24.9px;top:468.88px"></div>
<div class="b" style="left:38.8px;top:470.28px;width:136.4px"></div>
<div class="c mc" style="left:26.2px;top:470.18px">21</div>
<div class="hl" style="left:191.7px;top:468.88px"></div>
<div class="b" style="left:205.6px;top:470.28px;width:137.2px"></div>
<div class="c mc" style="left:193px;top:470.18px">22</div>
<div class="hl" style="left:24.9px;top:509.23px"></div>
<div class="b" style="left:38.8px;top:510.63px;width:136.4px"></div>
<div class="c mc" style="left:26.2px;top:510.53px">23</div>
<div class="hl" style="left:191.7px;top:509.23px"></div>
<div class="b" style="left:205.6px;top:510.63px;width:137.2px"></div>
<div class="c mc" style="left:193px;top:510.53px">24</div>
<div class="hl" style="left:24.9px;top:549.61px"></div>
<div class="b" style="left:38.8px;top:551.01px;width:136.4px"></div>
<div class="c mc" style="left:26.2px;top:550.91px">25</div>
<div class="hl" style="left:191.7px;top:549.61px"></div>
<div class="b" style="left:205.6px;top:551.01px;width:137.2px"></div>
<div class="c mc" style="left:193px;top:550.91px">26</div>
<div class="hl" style="left:24.9px;top:590.03px"></div>
<div class="b" style="left:38.8px;top:591.43px;width:136.4px"></div>
<div class="c mc" style="left:26.2px;top:591.33px">27</div>
<div class="hl" style="left:191.7px;top:590.03px"></div>
<div class="b" style="left:205.6px;top:591.43px;width:137.2px"></div>
<div class="c mc" style="left:193px;top:591.33px">28</div>
<div class="hl" style="left:24.9px;top:630.49px"></div>
<div class="b" style="left:38.8px;top:631.89px;width:136.4px"></div>
<div class="c mc" style="left:26.2px;top:631.79px">29</div>
<div class="hl" style="left:191.7px;top:630.49px"></div>
<div class="b" style="left:205.6px;top:631.89px;width:137.2px"></div>
<div class="c mc" style="left:193px;top:631.79px">30</div>
<div class="hl" style="left:24.9px;top:670.98px"></div>
<div class="b" style="left:38.8px;top:672.38px;width:136.4px"></div>
<div class="c mc" style="left:26.2px;top:672.28px">31</div>
<div class="hl" style="left:191.7px;top:670.98px"></div>
<div class="b" style="left:205.6px;top:672.38px;width:137.2px"></div>
<div class="c mc" style="left:193px;top:672.28px">32</div>
<div class="hl" style="left:24.9px;top:711.51px"></div>
<div class="b" style="left:38.8px;top:712.91px;width:136.4px"></div>
<div class="c mc" style="left:26.2px;top:712.81px">33</div>
<div class="hl" style="left:191.7px;top:711.51px"></div>
<div class="b" style="left:205.6px;top:712.91px;width:137.2px"></div>
<div class="c mc" style="left:193px;top:712.81px">34</div>
<div class="hl" style="left:24.9px;top:752.08px"></div>
<div class="b" style="left:38.8px;top:753.48px;width:136.4px"></div>
<div class="c mc" style="left:26.2px;top:753.38px">35</div>
<div class="hl" style="left:191.7px;top:752.08px"></div>
<div class="b" style="left:205.6px;top:753.48px;width:137.2px"></div>
<div class="c mc" style="left:193px;top:753.38px">36</div>
<div class="hl" style="left:24.9px;top:792.69px"></div>
<div class="b" style="left:38.8px;top:794.09px;width:136.4px"></div>
<div class="c mc" style="left:26.2px;top:793.99px">37</div>
<div class="hl" style="left:191.7px;top:792.69px"></div>
<div class="b" style="left:205.6px;top:794.09px;width:137.2px"></div>
<div class="c mc" style="left:193px;top:793.99px">38</div>
<div class="hl" style="left:24.9px;top:833.33px"></div>
<div class="b" style="left:38.8px;top:834.73px;width:136.4px"></div>
<div class="c mc" style="left:26.2px;top:834.63px">39</div>
<div class="hl" style="left:191.7px;top:833.33px"></div>
<div class="b" style="left:205.6px;top:834.73px;width:137.2px"></div>
<div class="c mc" style="left:193px;top:834.63px">40</div>
<div class="hl" style="left:24.9px;top:874.01px"></div>
<div class="b" style="left:38.8px;top:875.41px;width:136.4px"></div>
<div class="c mc" style="left:26.2px;top:875.31px">41</div>
<div class="hl" style="left:191.7px;top:874.01px"></div>
<div class="b" style="left:205.6px;top:875.41px;width:137.2px"></div>
<div class="c mc" style="left:193px;top:875.31px">42</div>
<div class="hl" style="left:24.9px;top:914.73px"></div>
<div class="b" style="left:38.8px;top:916.13px;width:136.4px"></div>
<div class="c mc" style="left:26.2px;top:916.03px">43</div>
<div class="hl" style="left:191.7px;top:914.73px"></div>
<div class="b" style="left:205.6px;top:916.13px;width:137.2px"></div>
<div class="c mc" style="left:193px;top:916.03px">44</div>
<div class="hl" style="left:24.9px;top:955.48px"></div>
<div class="b" style="left:38.8px;top:956.88px;width:136.4px"></div>
<div class="c mc" style="left:26.2px;top:956.78px">45</div>
<div class="hl" style="left:191.7px;top:955.48px"></div>
<div class="b" style="left:205.6px;top:956.88px;width:137.2px"></div>
<div class="c mc" style="left:193px;top:956.78px">46</div>
<div class="hl" style="left:24.9px;top:996.27px"></div>
<div class="b" style="left:38.8px;top:997.67px;width:136.4px"></div>
<div class="c mc" style="left:26.2px;top:997.57px">47</div>
<div class="hl" style="left:191.7px;top:996.27px"></div>
<div class="b" style="left:205.6px;top:997.67px;width:137.2px"></div>
<div class="c mc" style="left:193px;top:997.57px">48</div>
<div class="bt">BREAKER DIRECTORY</div>
</div>
<div class="ms bk" style="left:1125.2px;top:1.7px">
<div class="h"><div class="ht">BREAKER DIRECTORY</div></div>
</div>
<div class="ms" style="left:1101.5px;top:38.24px">
<div class="h"><div class="ht">BREAKER DIRECTORY</div></div>
</div>
<div class="ms" style="left:1076.4px;top:74.78px">
<div class="h"><div class="ht">BREAKER DIRECTORY</div></div>
</div>
<div class="ms" style="left:1051.6px;top:111.32px">
<div class="h"><div class="ht">BREAKER DIRECTORY</div></div>
</div>
<div class="ms" style="left:1027px;top:147.86px">
<div class="h"><div class="ht">BREAKER DIRECTORY</div></div>
</div>
<div class="ms" style="left:1002.7px;top:184.4px">
<div class="h"><div class="ht">BREAKER DIRECTORY</div></div>
<div class="hl" style="left:24.9px;top:67.45px"></div>
<div class="b" style="left:38.8px;top:68.85px;width:136.4px"></div>
<div class="c mc" style="left:26.2px;top:68.75px">1</div>
<div class="hl" style="left:191.7px;top:67.45px"></div>
<div class="b" style="left:205.6px;top:68.85px;width:137.2px"></div>
<div class="c mc" style="left:193px;top:68.75px">2</div>
<div class="hl" style="left:24.9px;top:107.43px"></div>
<div class="b" style="left:38.8px;top:108.83px;width:136.4px"></div>
<div class="c mc" style="left:26.2px;top:108.73px">3</div>
<div class="hl" style="left:191.7px;top:107.43px"></div>
<div class="b" style="left:205.6px;top:108.83px;width:137.2px"></div>
<div class="c mc" style="left:193px;top:108.73px">4</div>
<div class="hl" style="left:24.9px;top:147.44px"></div>
<div class="b" style="left:38.8px;top:148.84px;width:136.4px"></div>
<div class="c mc" style="left:26.2px;top:148.74px">5</div>
<div class="hl" style="left:191.7px;top:147.44px"></div>
<div class="b" style="left:205.6px;top:148.84px;width:137.2px"></div>
<div class="c mc" style="left:193px;top:148.74px">6</div>
<div class="hl" style="left:24.9px;top:187.49px"></div>
<div class="b" style="left:38.8px;top:188.89px;width:136.4px"></div>
<div class="c mc" style="left:26.2px;top:188.79px">7</div>
<div class="hl" style="left:191.7px;top:187.49px"></div>
<div class="b" style="left:205.6px;top:188.89px;width:137.2px"></div>
<div class="c mc" style="left:193px;top:188.79px">8</div>
<div class="hl" style="left:24.9px;top:227.58px"></div>
<div class="b" style="left:38.8px;top:228.98px;width:136.4px"></div>
<div class="c mc" style="left:26.2px;top:228.88px">9</div>
<div class="hl" style="left:191.7px;top:227.58px"></div>
<div class="b" style="left:205.6px;top:228.98px;width:137.2px"></div>
<div class="c mc" style="left:193px;top:228.88px">10</div>
<div class="hl" style="left:24.9px;top:267.7px"></div>
<div class="b" style="left:38.8px;top:269.1px;width:136.4px"></div>
<div class="c mc" style="left:26.2px;top:269px">11</div>
<div class="hl" style="left:191.7px;top:267.7px"></div>
<div class="b" style="left:205.6px;top:269.1px;width:137.2px"></div>
<div class="c mc" style="left:193px;top:269px">12</div>
<div class="hl" style="left:24.9px;top:307.86px"></div>
<div class="b" style="left:38.8px;top:309.26px;width:136.4px"></div>
<div class="c mc" style="left:26.2px;top:309.16px">13</div>
<div class="hl" style="left:191.7px;top:307.86px"></div>
<div class="b" style="left:205.6px;top:309.26px;width:137.2px"></div>
<div class="c mc" style="left:193px;top:309.16px">14</div>
<div class="hl" style="left:24.9px;top:348.06px"></div>
<div class="b" style="left:38.8px;top:349.46px;width:136.4px"></div>
<div class="c mc" style="left:26.2px;top:349.36px">15</div>
<div class="hl" style="left:191.7px;top:348.06px"></div>
<div class="b" style="left:205.6px;top:349.46px;width:137.2px"></div>
<div class="c mc" style="left:193px;top:349.36px">16</div>
<div class="hl" style="left:24.9px;top:388.3px"></div>
<div class="b" style="left:38.8px;top:389.7px;width:136.4px"></div>
<div class="c mc" style="left:26.2px;top:389.6px">17</div>
<div class="hl" style="left:191.7px;top:388.3px"></div>
<div class="b" style="left:205.6px;top:389.7px;width:137.2px"></div>
<div class="c mc" style="left:193px;top:389.6px">18</div>
<div class="hl" style="left:24.9px;top:428.57px"></div>
<div class="b" style="left:38.8px;top:429.97px;width:136.4px"></div>
<div class="c mc" style="left:26.2px;top:429.87px">19</div>
<div class="hl" style="left:191.7px;top:428.57px"></div>
<div class="b" style="left:205.6px;top:429.97px;width:137.2px"></div>
<div class="c mc" style="left:193px;top:429.87px">20</div>
<div class="hl" style="left:24.9px;top:468.88px"></div>
<div class="b" style="left:38.8px;top:470.28px;width:136.4px"></div>
<div class="c mc" style="left:26.2px;top:470.18px">21</div>
<div class="hl" style="left:191.7px;top:468.88px"></div>
<div class="b" style="left:205.6px;top:470.28px;width:137.2px"></div>
<div class="c mc" style="left:193px;top:470.18px">22</div>
<div class="hl" style="left:24.9px;top:509.23px"></div>
<div class="b" style="left:38.8px;top:510.63px;width:136.4px"></div>
<div class="c mc" style="left:26.2px;top:510.53px">23</div>
<div class="hl" style="left:191.7px;top:509.23px"></div>
<div class="b" style="left:205.6px;top:510.63px;width:137.2px"></div>
<div class="c mc" style="left:193px;top:510.53px">24</div>
<div class="hl" style="left:24.9px;top:549.61px"></div>
<div class="b" style="left:38.8px;top:551.01px;width:136.4px"></div>
<div class="c mc" style="left:26.2px;top:550.91px">25</div>
<div class="hl" style="left:191.7px;top:549.61px"></div>
<div class="b" style="left:205.6px;top:551.01px;width:137.2px"></div>
<div class="c mc" style="left:193px;top:550.91px">26</div>
<div class="hl" style="left:24.9px;top:590.03px"></div>
<div class="b" style="left:38.8px;top:591.43px;width:136.4px"></div>
<div class="c mc" style="left:26.2px;top:591.33px">27</div>
<div class="hl" style="left:191.7px;top:590.03px"></div>
<div class="b" style="left:205.6px;top:591.43px;width:137.2px"></div>
<div class="c mc" style="left:193px;top:591.33px">28</div>
<div class="hl" style="left:24.9px;top:630.49px"></div>
<div class="b" style="left:38.8px;top:631.89px;width:136.4px"></div>
<div class="c mc" style="left:26.2px;top:631.79px">29</div>
<div class="hl" style="left:191.7px;top:630.49px"></div>
<div class="b" style="left:205.6px;top:631.89px;width:137.2px"></div>
<div class="c mc" style="left:193px;top:631.79px">30</div>
<div class="hl" style="left:24.9px;top:670.98px"></div>
<div class="b" style="left:38.8px;top:672.38px;width:136.4px"></div>
<div class="c mc" style="left:26.2px;top:672.28px">31</div>
<div class="hl" style="left:191.7px;top:670.98px"></div>
<div class="b" style="left:205.6px;top:672.38px;width:137.2px"></div>
<div class="c mc" style="left:193px;top:672.28px">32</div>
<div class="hl" style="left:24.9px;top:711.51px"></div>
<div class="b" style="left:38.8px;top:712.91px;width:136.4px"></div>
<div class="c mc" style="left:26.2px;top:712.81px">33</div>
<div class="hl" style="left:191.7px;top:711.51px"></div>
<div class="b" style="left:205.6px;top:712.91px;width:137.2px"></div>
<div class="c mc" style="left:193px;top:712.81px">34</div>
<div class="hl" style="left:24.9px;top:752.08px"></div>
<div class="b" style="left:38.8px;top:753.48px;width:136.4px"></div>
<div class="c mc" style="left:26.2px;top:753.38px">35</div>
<div class="hl" style="left:191.7px;top:752.08px"></div>
<div class="b" style="left:205.6px;top:753.48px;width:137.2px"></div>
<div class="c mc" style="left:193px;top:753.38px">36</div>
<div class="hl" style="left:24.9px;top:792.69px"></div>
<div class="b" style="left:38.8px;top:794.09px;width:136.4px"></div>
<div class="c mc" style="left:26.2px;top:793.99px">37</div>
<div class="hl" style="left:191.7px;top:792.69px"></div>
<div class="b" style="left:205.6px;top:794.09px;width:137.2px"></div>
<div class="c mc" style="left:193px;top:793.99px">38</div>
<div class="hl" style="left:24.9px;top:833.33px"></div>
<div class="b" style="left:38.8px;top:834.73px;width:136.4px"></div>
<div class="c mc" style="left:26.2px;top:834.63px">39</div>
<div class="hl" style="left:191.7px;top:833.33px"></div>
<div class="b" style="left:205.6px;top:834.73px;width:137.2px"></div>
<div class="c mc" style="left:193px;top:834.63px">40</div>
<div class="hl" style="left:24.9px;top:874.01px"></div>
<div class="b" style="left:38.8px;top:875.41px;width:136.4px"></div>
<div class="c mc" style="left:26.2px;top:875.31px">41</div>
<div class="hl" style="left:191.7px;top:874.01px"></div>
<div class="b" style="left:205.6px;top:875.41px;width:137.2px"></div>
<div class="c mc" style="left:193px;top:875.31px">42</div>
<div class="hl" style="left:24.9px;top:914.73px"></div>
<div class="b" style="left:38.8px;top:916.13px;width:136.4px"></div>
<div class="c mc" style="left:26.2px;top:916.03px">43</div>
<div class="hl" style="left:191.7px;top:914.73px"></div>
<div class="b" style="left:205.6px;top:916.13px;width:137.2px"></div>
<div class="c mc" style="left:193px;top:916.03px">44</div>
<div class="hl" style="left:24.9px;top:955.48px"></div>
<div class="b" style="left:38.8px;top:956.88px;width:136.4px"></div>
<div class="c mc" style="left:26.2px;top:956.78px">45</div>
<div class="hl" style="left:191.7px;top:955.48px"></div>
<div class="b" style="left:205.6px;top:956.88px;width:137.2px"></div>
<div class="c mc" style="left:193px;top:956.78px">46</div>
<div class="hl" style="left:24.9px;top:996.27px"></div>
<div class="b" style="left:38.8px;top:997.67px;width:136.4px"></div>
<div class="c mc" style="left:26.2px;top:997.57px">47</div>
<div class="hl" style="left:191.7px;top:996.27px"></div>
<div class="b" style="left:205.6px;top:997.67px;width:137.2px"></div>
<div class="c mc" style="left:193px;top:997.57px">48</div>
<div class="bt">BREAKER DIRECTORY</div>
</div>
</body></html>
